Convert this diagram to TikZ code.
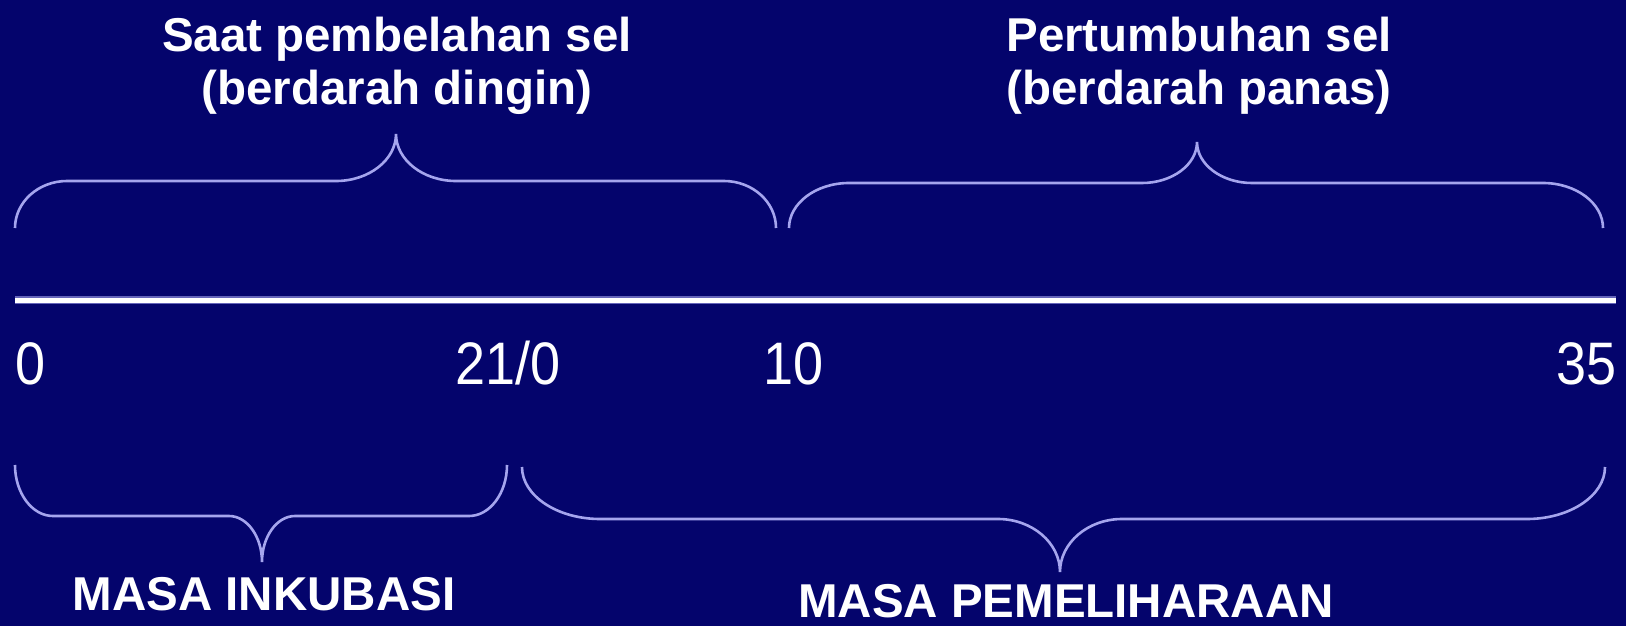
\documentclass[tikz,border=0pt]{standalone}
\usepackage{fontspec}
\setmainfont{Liberation Sans}
\newfontfamily\angka[FakeStretch=0.9]{Liberation Sans}
\usepackage{xcolor}
\usetikzlibrary{positioning}

\definecolor{latar}{RGB}{4,4,108}
\definecolor{lilac}{RGB}{165,165,238}

% brace: x1, x2, xtip, yend, ymid, ytip, corner, tip
\newcommand{\kurung}[8]{%
  \draw[brc] (#1,#4) .. controls (#1,{#4+0.55*(#5-#4)}) and ({#1+0.45*#7},#5) .. ({#1+#7},#5)
    -- ({#3-#8},#5) .. controls ({#3-0.45*#8},#5) and (#3,{#5+0.45*(#6-#5)}) .. (#3,#6)
    .. controls (#3,{#5+0.45*(#6-#5)}) and ({#3+0.45*#8},#5) .. ({#3+#8},#5)
    -- ({#2-#7},#5) .. controls ({#2-0.45*#7},#5) and (#2,{#4+0.55*(#5-#4)}) .. (#2,#4);}

\begin{document}
\begin{tikzpicture}[
        x=1pt, y=-1pt,
        brc/.style={draw=lilac, line width=2.6pt},
        judul/.style={
            text=white,
            inner sep=0pt,
            anchor=base,
            font=\bfseries\fontsize{47.5}{52}\selectfont
        },
        hari/.style={
            text=white,
            inner sep=0pt,
            font=\angka\fontsize{60}{60}\selectfont
        }
    ]
        \fill[latar] (0,0) rectangle (1626,626);
        \useasboundingbox (0,0) rectangle (1626,626);

        % titles above
        \node[judul] (dingin1) at (397,52) {Saat pembelahan sel};
        \node[judul] (dingin2) at (397,104) {(berdarah dingin)};
        \node[judul] (panas1) at (1199,52) {Pertumbuhan sel};
        \node[judul] (panas2) at (1199,104) {(berdarah panas)};

        % upper braces
        \kurung{15}{776}{396}{228}{181}{134}{52}{60}
        \kurung{789}{1603}{1197}{228}{183}{142}{60}{55}

        % time line
        \coordinate (awal) at (15,300);
        \coordinate (akhir) at (1616,300);
        \draw[lilac!60!latar, line width=8pt] (awal) -- (akhir);
        \draw[white, line width=5pt] (awal) -- (akhir);

        % day numbers
        \node[hari, anchor=base west] (h0) at (15,384) {0};
        \node[hari, anchor=base west] (h21) at (455,384) {21/0};
        \node[hari, anchor=base west] (h10) at (763,384) {10};
        \node[hari, anchor=base east] (h35) at (1617,384) {35};

        % lower braces
        \kurung{15}{507}{262}{465}{516}{562}{38}{33}
        \kurung{522}{1605}{1060}{467}{519}{572}{78}{62}

        \node[judul] (inkubasi) at (264,610) {MASA INKUBASI};
        \node[judul] (pelihara) at (1066,617) {MASA PEMELIHARAAN};
    \end{tikzpicture}
\end{document}
